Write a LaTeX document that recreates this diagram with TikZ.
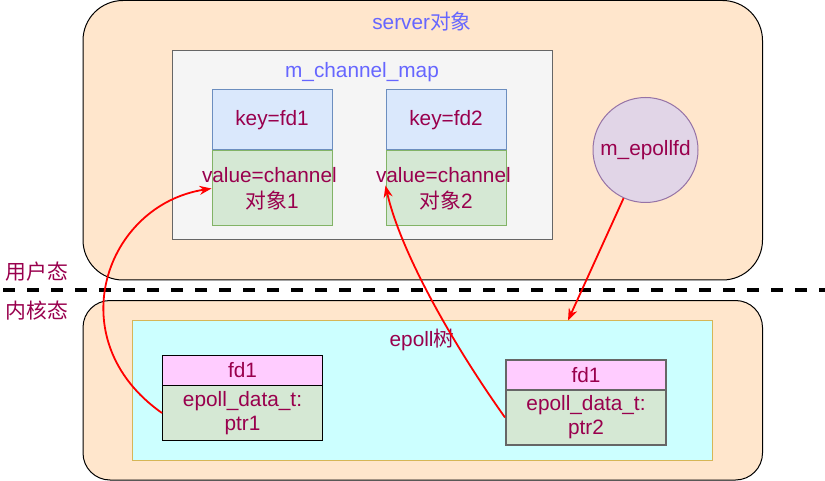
\documentclass[tikz,border=0pt]{standalone}
\usepackage{fontspec}
\setmainfont{Liberation Sans}
\newfontfamily\cjk{Noto Sans CJK SC}
\usetikzlibrary{arrows.meta}
\definecolor{txtmag}{HTML}{99004D}
\definecolor{txtblue}{HTML}{6666FF}
\definecolor{peach}{HTML}{FFE6CC}
\definecolor{mapfill}{HTML}{F5F5F5}
\definecolor{mapdraw}{HTML}{666666}
\definecolor{keyfill}{HTML}{DAE8FC}
\definecolor{keydraw}{HTML}{6C8EBF}
\definecolor{valfill}{HTML}{D5E8D4}
\definecolor{valdraw}{HTML}{82B366}
\definecolor{circfill}{HTML}{E1D5E7}
\definecolor{circdraw}{HTML}{9673A6}
\definecolor{treefill}{HTML}{CCFFFF}
\definecolor{treedraw}{HTML}{D6B656}
\definecolor{hdrfill}{HTML}{FFCCFF}
\tikzset{
  lbl/.style={font=\fontsize{20.8}{25}\selectfont, text=txtmag, align=center, inner sep=0pt},
  ttl/.style={font=\fontsize{20.8}{25}\selectfont, text=txtblue, inner sep=0pt},
  panel/.style={draw=black, fill=peach, line width=1pt, inner sep=0pt},
  cell/.style={rectangle, line width=1pt, inner sep=0pt, text width=120pt, font=\fontsize{20.8}{26}\selectfont, text=txtmag, align=center},
  rec/.style={rectangle, line width=1pt, inner sep=0pt, text width=160pt, font=\fontsize{20.8}{24}\selectfont, text=txtmag, align=center},
  link/.style={draw=red, line width=1.8pt, -{Stealth[length=12pt,width=9pt]}}
}
\begin{document}
\begin{tikzpicture}[x=1pt,y=-1pt]
\useasboundingbox (0,0) rectangle (825,481);
% user space
\node[panel, rounded corners=40pt, minimum width=679.5pt, minimum height=279.5pt] (server) at (422.75,140.25) {};
\node[ttl] (servertitle) at (422,22) {server{\cjk 对象}};
\node[rectangle, draw=mapdraw, fill=mapfill, line width=1pt, inner sep=0pt, minimum width=380pt, minimum height=189.5pt] (map) at (362.5,145.25) {};
\node[ttl] (maptitle) at (362,72) {m\_channel\_map};
\node[cell, fill=keyfill, draw=keydraw, minimum height=60pt] (k1) at (272,120) {key=fd1};
\node[cell, fill=valfill, draw=valdraw, minimum height=75pt] (v1) at (272,188.5) {\hspace*{-10pt}value=channel\hspace*{-10pt}\\{\cjk 对象}1};
\node[cell, fill=keyfill, draw=keydraw, minimum height=60pt] (k2) at (446,120) {key=fd2};
\node[cell, fill=valfill, draw=valdraw, minimum height=75pt] (v2) at (446,188.5) {\hspace*{-10pt}value=channel\hspace*{-10pt}\\{\cjk 对象}2};
\node[circle, fill=circfill, draw=circdraw, line width=1pt, minimum size=105pt, inner sep=0pt, font=\fontsize{20.8}{25}\selectfont, text=txtmag] (ep) at (645.5,150) {m\_epollfd};
% divider
\coordinate (dl) at (0,290);
\coordinate (dr) at (825,290);
\draw[line width=4pt, dash pattern=on 12pt off 12pt, dash phase=-3pt] (dl) -- (dr);
\node[lbl, font=\cjk\fontsize{20.8}{25}\selectfont] (user) at (37,272) {用户态};
\node[lbl, font=\cjk\fontsize{20.8}{25}\selectfont] (kern) at (37,311) {内核态};
% kernel space
\node[panel, rounded corners=27pt, minimum width=679.5pt, minimum height=179.5pt] (kernel) at (422.75,390.25) {};
\node[rectangle, fill=treefill, draw=treedraw, line width=1pt, inner sep=0pt, minimum width=580pt, minimum height=140pt] (tree) at (422.5,390.5) {};
\node[lbl] (treetitle) at (422,340) {epoll{\cjk 树}};
\node[rec, fill=hdrfill, draw=black, minimum height=30pt] (f1h) at (242.5,370.5) {fd1};
\node[rec, fill=valfill, draw=black, minimum height=55pt] (f1b) at (242.5,413) {epoll\_data\_t:\\ptr1};
\node[rec, fill=hdrfill, draw=mapdraw, line width=2pt, minimum height=30pt] (f2h) at (586,375) {fd1};
\node[rec, fill=valfill, draw=mapdraw, line width=2pt, minimum height=55pt] (f2b) at (586,417.5) {epoll\_data\_t:\\ptr2};
% connectors
\coordinate (treetop) at (568,320.5);
\draw[link] (f1b.west) .. controls (58,340) and (105,205) .. (v1.west);
\draw[link] (f2b.west) .. controls (450,340) and (400,250) .. ([yshift=3pt]v2.west);
\draw[link] (ep) -- (treetop);
\end{tikzpicture}
\end{document}
